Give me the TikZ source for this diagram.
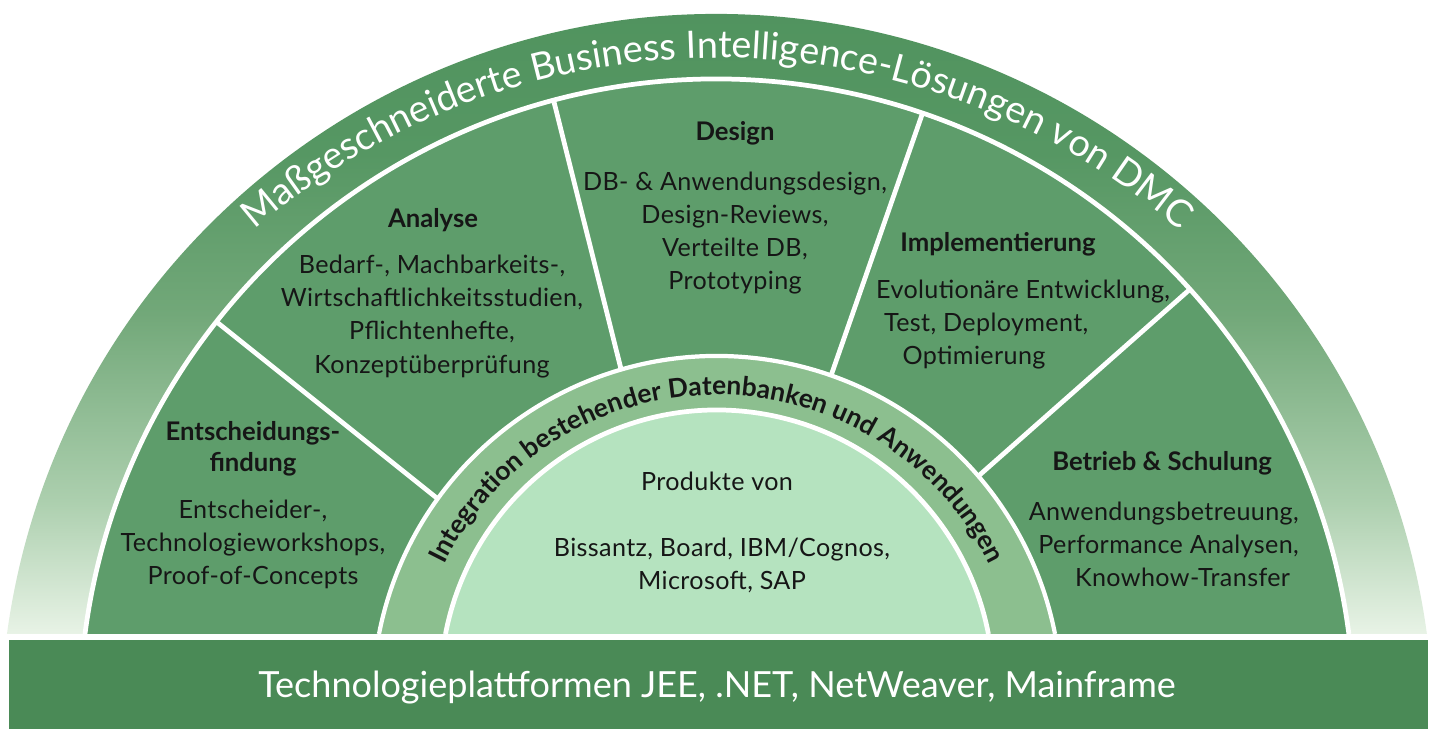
\documentclass[tikz,border=0pt]{standalone}
\usepackage{fontspec}
\setmainfont{Lato}
\usetikzlibrary{decorations.text}

\definecolor{bar}{RGB}{74,138,86}
\definecolor{ringdark}{RGB}{79,146,93}
\definecolor{ringdeep}{RGB}{86,151,99}
\definecolor{ringmid}{RGB}{114,168,121}
\definecolor{ringpale}{RGB}{172,207,174}
\definecolor{ringlight}{RGB}{232,243,230}
\definecolor{seg}{RGB}{94,157,107}
\definecolor{band}{RGB}{140,191,143}
\definecolor{core}{RGB}{181,227,191}
\definecolor{ink}{RGB}{22,22,22}

\pgfdeclareverticalshading{ringfade}{100bp}{color(0bp)=(ringlight); color(25bp)=(ringlight);
  color(35bp)=(ringpale); color(49bp)=(ringmid); color(61bp)=(ringdeep);
  color(75bp)=(ringdark); color(100bp)=(ringdark)}

\tikzset{
  rim/.style={draw=white, line width=2.7pt},
  divider/.style={white, line width=2.7pt, shorten <=-30pt, shorten >=-30pt},
  head/.style={text=ink, font=\bfseries\fontsize{14.6}{17.5}\selectfont, align=center},
  body/.style={text=ink, font=\fontsize{14.3}{18.8}\selectfont\addfontfeatures{LetterSpace=1.5}, align=center},
}

\begin{document}
\begin{tikzpicture}[scale=0.2]
\useasboundingbox (-71.7,-9.5) rectangle (71.7,63.4);
\fill[white] (-71.7,-9.5) rectangle (71.7,63.4);

\shade[shading=ringfade] (-71,0) arc[start angle=172.26, end angle=7.74, radius=71.65] -- cycle;
\path[decorate, decoration={text along path, text align=center, text color=white,
  text={|\fontsize{21.5}{21.5}\selectfont|Maßgeschneiderte Business Intelligence-Lösungen von DMC}}]
  (0,-13.2) ++(148:70.8) arc[start angle=148, end angle=32, radius=70.8];

\fill[seg] (-63.2,0) arc[start angle=172.58, end angle=7.42, radius=63.73] -- cycle;

\coordinate (e1) at (-49.9,31.1); \coordinate (e2) at (-28.4,13.9);
\coordinate (a1) at (-16.2,52.8); \coordinate (a2) at (-9.7,26.9);
\coordinate (d1) at (20.7,52.5);  \coordinate (d2) at (11.6,26.4);
\coordinate (i1) at (47.1,34.3);  \coordinate (i2) at (26.6,16.2);
\begin{scope}
\clip (-63.2,0) arc[start angle=172.58, end angle=7.42, radius=63.73] -- cycle;
\draw[divider] (e1) -- (e2);
\draw[divider] (a1) -- (a2);
\draw[divider] (d1) -- (d2);
\draw[divider] (i1) -- (i2);
\end{scope}
\draw[rim] (-63.2,0) arc[start angle=172.58, end angle=7.42, radius=63.73];

\fill[band] (-33.8,0) arc[start angle=168.87, end angle=11.13, radius=34.45] -- cycle;
\draw[rim, line width=2.4pt] (-33.8,0) arc[start angle=168.87, end angle=11.13, radius=34.45];
\path[decorate, decoration={text along path, text align=center, text color=ink,
  text={|\bfseries\fontsize{15}{15}\selectfont|Integration bestehender Datenbanken und Anwendungen}}]
  (0,-6.5) ++(165:30.4) arc[start angle=165, end angle=15, radius=30.4];

\fill[core] (-27.15,0) arc[start angle=169.05, end angle=10.95, radius=27.65] -- cycle;
\draw[rim] (-27.15,0) arc[start angle=169.05, end angle=10.95, radius=27.65];

\fill[bar] (-70.8,-0.6) rectangle (71.1,-9.5);
\node[text=white, font=\fontsize{20.5}{20.5}\selectfont] (tp) at (0,-5.4) {Technologieplattformen JEE, .NET, NetWeaver, Mainframe};

\node[head] (eh) at (-46.4,18.5) {Entscheidungs-\\findung};
\node[body] (eb) at (-46.4,9.0) {Entscheider-,\\Technologieworkshops,\\Proof-of-Concepts};
\node[head] (ah) at (-28.4,41.4) {Analyse};
\node[body] (ab) at (-28.5,31.75) {Bedarf-, Machbarkeits-,\\Wirtschaftlichkeitsstudien,\\Pflichtenhefte,\\Konzeptüberprüfung};
\node[head] (dh) at (1.8,50.1) {Design};
\node[body] (db) at (1.8,40.1) {DB- \& Anwendungsdesign,\\Design-Reviews,\\Verteilte DB,\\Prototyping};
\node[head] (ih) at (28.1,39.0) {Implementierung};
\node[body, align=left, anchor=west] (ib) at (15.3,30.9) {Evolutionäre Entwicklung,\\\hspace{4.5pt}Test, Deployment,\\\hspace{15pt}Optimierung};
\node[head] (bh) at (44.5,17.1) {Betrieb \& Schulung};
\node[body, align=right, anchor=east] (bb) at (58.8,9.0) {Anwendungsbetreuung,\\Performance Analysen,\\Knowhow-Transfer\hspace{5pt}\mbox{}};
\node[body] (p) at (0,15.3) {Produkte von};
\node[body] (pb) at (0.5,6.85) {Bissantz, Board, IBM/Cognos,\\Microsoft, SAP};
\end{tikzpicture}
\end{document}
